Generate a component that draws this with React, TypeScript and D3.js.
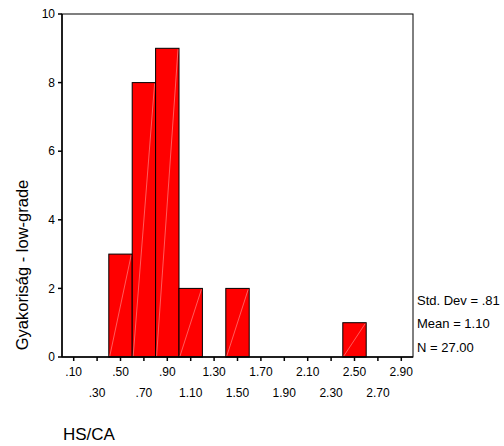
import React from "react";
import * as d3 from "d3";

const binStarts = [0.4, 0.6, 0.8, 1.0, 1.4, 2.4];
const binCounts = [3, 8, 9, 2, 2, 1];
const binWidth = 0.2;
const xTickValues = [0.1, 0.3, 0.5, 0.7, 0.9, 1.1, 1.3, 1.5, 1.7, 1.9, 2.1, 2.3, 2.5, 2.7, 2.9];
const xTickLabels = [".10", ".30", ".50", ".70", ".90", "1.10", "1.30", "1.50", "1.70", "1.90", "2.10", "2.30", "2.50", "2.70", "2.90"];
const yTickValues = [0, 2, 4, 6, 8, 10];
const statsLines = ["Std. Dev = .81", "Mean = 1.10", "N = 27.00"];
const yLabel = "Gyakoriság - low-grade";
const xLabel = "HS/CA";

export default function App() {
  const left = 62, right = 413, top = 14, bottom = 357;
  const x = d3.scaleLinear().domain([0, 3.0]).range([left, right]);
  const y = d3.scaleLinear().domain([0, 10]).range([bottom, top]);
  const font = "Arial, 'Liberation Sans', sans-serif";
  return (
    <svg width={504} height={446} style={{ position: "absolute", left: 0, top: 0 }} fontFamily={font}>
      <rect x={0} y={0} width={504} height={446} fill="#fff" />
      {binStarts.map((s, i) => {
        const x0 = x(s), x1 = x(s + binWidth), y0 = y(binCounts[i]);
        return (
          <g key={i}>
            <rect x={x0} y={y0} width={x1 - x0} height={bottom - y0} fill="#ff0000" stroke="#000" strokeWidth={1} />
            <line x1={x0 + 1} y1={bottom - 1} x2={x1 - 1} y2={y0 + 1} stroke="#ff9a9a" strokeWidth={0.6} />
          </g>
        );
      })}
      <rect x={left} y={top} width={right - left} height={bottom - top} fill="none" stroke="#000" strokeWidth={1} />
      <line x1={left} y1={top} x2={left} y2={bottom} stroke="#000" strokeWidth={1.5} />
      <line x1={left} y1={bottom} x2={right} y2={bottom} stroke="#000" strokeWidth={1.5} />
      {yTickValues.map((v) => (
        <g key={v}>
          <line x1={left - 4} x2={left} y1={y(v)} y2={y(v)} stroke="#000" strokeWidth={1.5} />
          <text x={55} y={y(v)} dy="0.35em" textAnchor="end" fontSize={12}>{v}</text>
        </g>
      ))}
      {xTickValues.map((v, i) => (
        <g key={i}>
          <line x1={x(v)} x2={x(v)} y1={bottom} y2={bottom + 4} stroke="#000" strokeWidth={1.5} />
          <text x={x(v)} y={i % 2 === 0 ? 372 : 393} dy="0.35em" textAnchor="middle" fontSize={12}>{xTickLabels[i]}</text>
        </g>
      ))}
      {statsLines.map((t, i) => (
        <text key={i} x={417} y={300 + i * 23.5} dy="0.35em" fontSize={13}>{t}</text>
      ))}
      <text transform={`translate(22, 265) rotate(-90)`} textAnchor="middle" dy="0.35em" fontSize={16.5}>{yLabel}</text>
      <text x={63} y={434} dy="0.35em" fontSize={17}>{xLabel}</text>
    </svg>
  );
}
